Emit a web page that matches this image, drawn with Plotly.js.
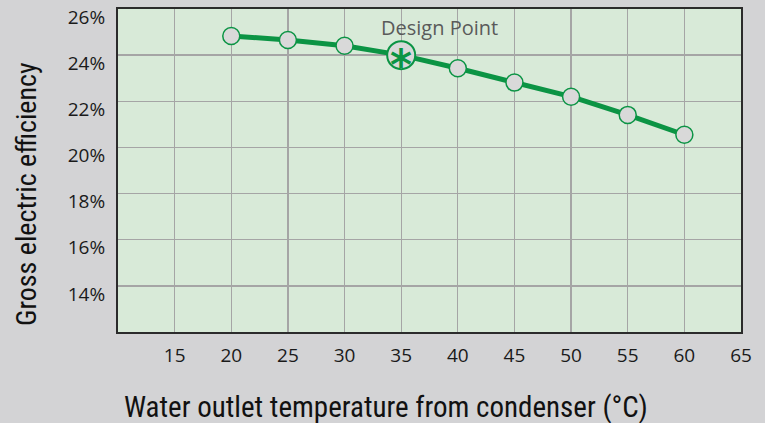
<!DOCTYPE html>
<html>
<head>
<meta charset="utf-8">
<script src="https://cdn.plot.ly/plotly-3.0.1.min.js"></script>
<style>
html,body{margin:0;padding:0;background:#d3d3d5;}
#chart{width:765px;height:423px;}
</style>
</head>
<body>
<div id="chart"></div>
<script>
const temperatures = [20, 25, 30, 35, 40, 45, 50, 55, 60];
const efficiency = [24.83, 24.66, 24.41, 24.0, 23.43, 22.81, 22.2, 21.41, 20.55];
const designTemp = [35];
const designEff = [24.0];
const designLabel = "Design Point";
const xTitle = "Water outlet temperature from condenser (°C)";
const yTitle = "Gross electric efficiency";
const xTicks = [15, 20, 25, 30, 35, 40, 45, 50, 55, 60, 65];
const yTicks = [14, 16, 18, 20, 22, 24, 26];

const green = "#0b9444";
const tickFont = {family: "Open Sans, Noto Sans, sans-serif", size: 19, color: "#1a1a1a"};
const titleFamily = "Liberation Sans Narrow, Roboto Condensed, Arial Narrow, sans-serif";

const traces = [
  {
    x: temperatures, y: efficiency, type: "scatter", mode: "lines+markers",
    line: {color: green, width: 5},
    marker: {symbol: "circle", size: 17, color: "#d9d9d9", line: {color: green, width: 1.5}},
    hoverinfo: "skip", showlegend: false
  },
  {
    x: designTemp, y: designEff, type: "scatter", mode: "markers",
    marker: {symbol: "circle", size: 28, color: "#d9d9d9", line: {color: green, width: 2}},
    hoverinfo: "skip", showlegend: false
  }
];

const ML = 118, MR = 24, MT = 9, MB = 91, W = 765, H = 423;
const pw = W - ML - MR, ph = H - MT - MB;
const px = v => (v - ML) / pw;
const py = v => (H - MB - v) / ph;

const layout = {
  width: W, height: H,
  paper_bgcolor: "#d3d3d5",
  plot_bgcolor: "#d8ead8",
  margin: {l: ML, r: MR, t: MT, b: MB},
  showlegend: false,
  xaxis: {
    range: [10, 65], tickvals: xTicks, ticktext: xTicks.map(String),
    showgrid: true, gridcolor: "#a5a5a5", gridwidth: 1.3,
    showline: true, linecolor: "#2b2b2b", linewidth: 2, mirror: true,
    zeroline: false, ticks: "", tickfont: tickFont, ticklabelstandoff: 5
  },
  yaxis: {
    range: [12, 26], tickvals: yTicks, ticktext: yTicks.map(v => v + "%"),
    showgrid: true, gridcolor: "#a5a5a5", gridwidth: 1.3,
    showline: true, linecolor: "#2b2b2b", linewidth: 2, mirror: true,
    zeroline: false, ticks: "", tickfont: tickFont, ticklabelshift: 8, ticklabelstandoff: 7
  },
  annotations: [
    {x: designTemp[0], y: designEff[0], xref: "x", yref: "y", text: "<b>*</b>", showarrow: false,
     font: {family: "DejaVu Sans, sans-serif", size: 42, color: green}, yshift: -10},
    {x: 38.4, y: 25.2, xref: "x", yref: "y", text: designLabel, showarrow: false,
     xanchor: "center", yanchor: "middle",
     font: {family: "Open Sans, Noto Sans, sans-serif", size: 20, color: "#5a5a5a"}},
    {x: px(386), y: py(407), xref: "paper", yref: "paper", text: xTitle, showarrow: false,
     xanchor: "center", yanchor: "middle",
     font: {family: titleFamily, size: 29, color: "#111"}},
    {x: px(27), y: py(194), xref: "paper", yref: "paper", text: yTitle, textangle: -90,
     showarrow: false, xanchor: "center", yanchor: "middle",
     font: {family: titleFamily, size: 28, color: "#111"}}
  ]
};

Plotly.newPlot("chart", traces, layout, {displayModeBar: false, staticPlot: true});
</script>
</body>
</html>
